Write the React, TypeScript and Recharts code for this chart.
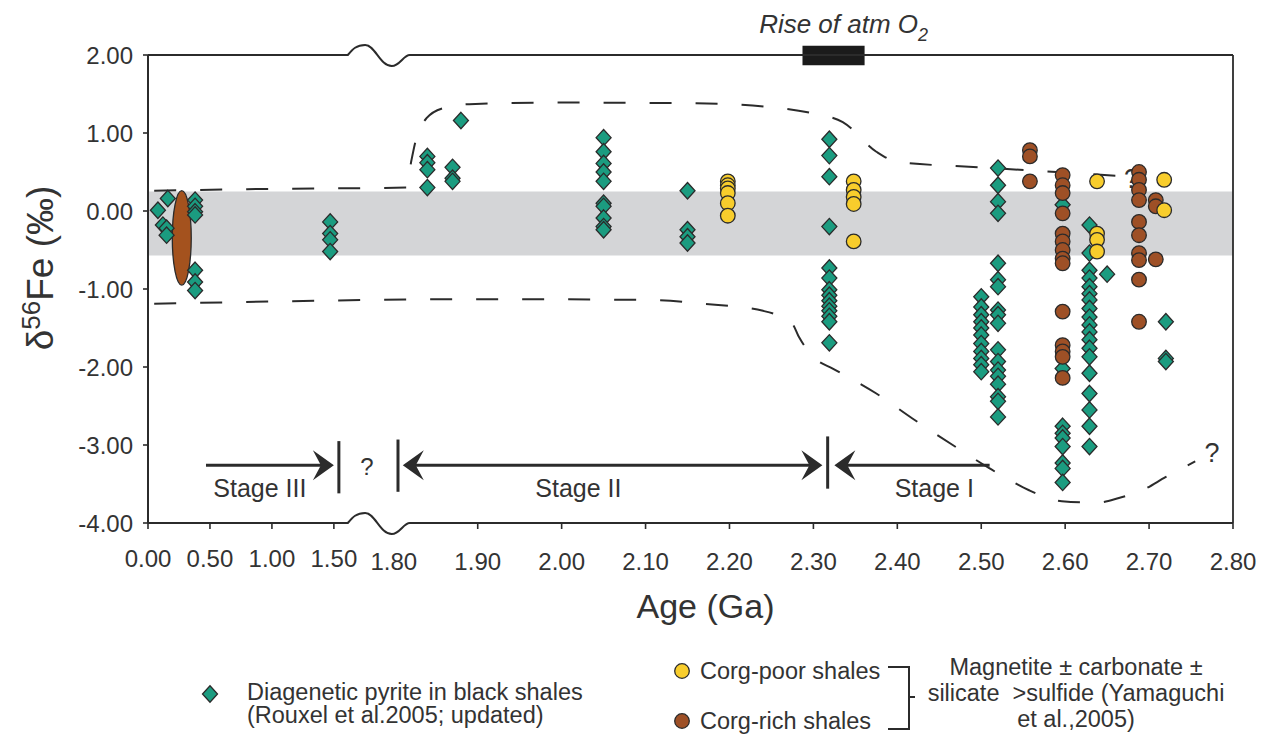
import React from 'react';
import {
  ComposedChart,
  Scatter,
  Line,
  XAxis,
  YAxis,
  ReferenceArea,
  ReferenceLine,
  ReferenceDot,
} from 'recharts';

const FONT = '"Liberation Sans", Arial, Helvetica, sans-serif';
const INK = '#2b2b2b';
const TEXT = '#333';
const TEAL = '#1b9c80';
const YELLOW = '#f8cd2c';
const BROWN = '#9e5026';

// x axis is broken between 1.50 and 1.80 Ga, the 0-1.5 Ga part is squeezed
const LEFT_START = 1.5071; // axis position of 0 Ga
const LEFT_END = 1.7286; // axis position of 1.5 Ga
const ax = (age: number) => {
  if (age <= 1.5) return LEFT_START + (age / 1.5) * (LEFT_END - LEFT_START);
  if (age < 1.8) return LEFT_END + ((age - 1.5) / 0.3) * (1.8 - LEFT_END);
  return age;
};
const WAVE_FROM = 1.7452;
const WAVE_TO = 1.819;

const tickAges = [0, 0.5, 1.0, 1.5, 1.8, 1.9, 2.0, 2.1, 2.2, 2.3, 2.4, 2.5, 2.6, 2.7, 2.8];
const tickLabels = ['0.00', '0.50', '1.00', '1.50', '1.80', '1.90', '2.00', '2.10', '2.20', '2.30', '2.40', '2.50', '2.60', '2.70', '2.80'];
const yTicks = [-4, -3, -2, -1, 0, 1, 2];

// diagenetic pyrite (Rouxel et al. 2005)
const pyriteAges = [0.08, 0.16, 0.12, 0.15, 0.38, 1.47, 1.84, 1.87, 1.88, 2.05, 2.15, 2.319, 2.50, 2.52, 2.597, 2.629, 2.65, 2.72];
const pyriteValues = [
  [0.01],
  [0.16],
  [-0.18],
  [-0.22, -0.31],
  [0.14, 0.06, -0.01, -0.05, -0.76, -0.91, -1.02],
  [-0.14, -0.29, -0.37, -0.52],
  [0.7, 0.62, 0.53, 0.3],
  [0.56, 0.42, 0.38],
  [1.16],
  [0.94, 0.76, 0.61, 0.5, 0.38, 0.1, 0.06, -0.09, -0.2, -0.24],
  [0.26, -0.24, -0.33, -0.41],
  [0.92, 0.71, 0.44, -0.2, -0.73, -0.86, -1.01, -1.08, -1.15, -1.22, -1.28, -1.35, -1.42, -1.69],
  [-1.1, -1.23, -1.33, -1.42, -1.5, -1.59, -1.7, -1.8, -1.89, -1.97, -2.06],
  [0.55, 0.33, 0.12, -0.03, -0.67, -0.88, -0.97, -1.27, -1.33, -1.44, -1.78, -1.93, -2.04, -2.12, -2.22, -2.38, -2.44, -2.64],
  [0.08, -2.02, -2.76, -2.85, -2.91, -3.02, -3.23, -3.3, -3.48],
  [-0.18, -0.54, -0.76, -0.86, -0.97, -1.06, -1.14, -1.25, -1.36, -1.46, -1.55, -1.65, -1.76, -1.87, -2.08, -2.34, -2.55, -2.76, -3.02],
  [-0.81],
  [-1.42, -1.89, -1.93],
];

// Corg-poor shales (Yamaguchi et al. 2005)
const poorAges = [2.198, 2.348, 2.638, 2.718];
const poorValues = [
  [0.38, 0.33, 0.29, 0.23, 0.1, -0.06],
  [0.38, 0.27, 0.18, 0.09, -0.39],
  [0.38, -0.29, -0.37, -0.52],
  [0.4, 0.01],
];

// Corg-rich shales
const richAges = [2.558, 2.597, 2.688, 2.708];
const richValues = [
  [0.78, 0.7, 0.38],
  [0.46, 0.33, 0.23, -0.03, -0.29, -0.39, -0.5, -0.61, -0.67, -1.29, -1.72, -1.8, -1.87, -2.14],
  [0.5, 0.4, 0.27, 0.14, -0.14, -0.31, -0.54, -0.63, -0.88, -1.42],
  [0.14, 0.06, -0.62],
];

// dashed envelope
const upperAges = [0.05, 0.8, 1.5, 1.815, 1.821, 1.826, 1.839, 1.859, 1.89, 2.0, 2.16, 2.26, 2.3, 2.335, 2.375, 2.4, 2.48, 2.56, 2.62, 2.665];
const upperValues = [0.26, 0.28, 0.29, 0.3, 0.65, 0.9, 1.19, 1.32, 1.37, 1.39, 1.38, 1.32, 1.25, 1.14, 0.76, 0.63, 0.57, 0.52, 0.48, 0.45];
const lowerAges = [0.05, 1.0, 1.9, 2.1, 2.17, 2.24, 2.275, 2.283, 2.303, 2.323, 2.375, 2.418, 2.466, 2.51, 2.537, 2.557, 2.596, 2.637, 2.664, 2.692, 2.72, 2.755];
const lowerValues = [-1.19, -1.16, -1.13, -1.14, -1.19, -1.28, -1.45, -1.62, -1.9, -2.02, -2.34, -2.66, -3.0, -3.3, -3.47, -3.58, -3.72, -3.74, -3.68, -3.58, -3.41, -3.21];

// ellipse of the young-age range
const ellipseAges = [0.196, 0.349];
const ellipseRange = [-0.95, 0.26];

const columns = (ages: number[], values: number[][]) =>
  ages.flatMap((a, i) => values[i].map((v) => ({ x: ax(a), y: v })));
const curve = (ages: number[], values: number[]) => ages.map((a, i) => ({ x: ax(a), y: values[i] }));

const pyriteData = columns(pyriteAges, pyriteValues);
const poorData = columns(poorAges, poorValues);
const richData = columns(richAges, richValues);
const upperData = curve(upperAges, upperValues);
const lowerData = curve(lowerAges, lowerValues);

const diamondPath = (cx: number, cy: number, w = 7.5, h = 8.2) =>
  `M${cx},${cy - h}L${cx + w},${cy}L${cx},${cy + h}L${cx - w},${cy}Z`;

const Diamond = (p: any) => (
  <path d={diamondPath(p.cx, p.cy)} fill={TEAL} stroke={INK} strokeWidth={1.3} />
);
const dot = (fill: string) => (p: any) => (
  <circle cx={p.cx} cy={p.cy} r={7.3} fill={fill} stroke={INK} strokeWidth={1.3} />
);

const XTick = (p: any) => {
  const { x, y, payload } = p;
  const i = tickAges.findIndex((a) => Math.abs(ax(a) - payload.value) < 1e-6);
  const age = tickAges[i];
  return (
    <g>
      {age !== 1.8 && <line x1={x} x2={x} y1={y} y2={y + 6} stroke={INK} strokeWidth={1.6} />}
      <text x={x} y={y + (age <= 1.5 ? 44 : 47)} textAnchor="middle" fontSize={24} fill={TEXT}>
        {tickLabels[i]}
      </text>
    </g>
  );
};

// frame line with the axis-break wiggle
const brokenLine = (p: any) => {
  const { x1, x2, y1 } = p;
  const span = (v: number) => x1 + ((v - ax(0)) / (2.8 - ax(0))) * (x2 - x1);
  const a = span(WAVE_FROM);
  const b = span(WAVE_TO);
  const w = b - a;
  const y = y1;
  const d =
    `M${x1},${y}L${a},${y}` +
    `C${a + w * 0.08},${y - 6} ${a + w * 0.14},${y - 10} ${a + w * 0.28},${y - 10}` +
    `C${a + w * 0.44},${y - 10} ${a + w * 0.52},${y + 11} ${a + w * 0.71},${y + 11}` +
    `C${a + w * 0.84},${y + 11} ${a + w * 0.9},${y} ${b},${y}L${x2},${y}`;
  return <path d={d} fill="none" stroke={INK} strokeWidth={2} />;
};

const arrow = (headStart: boolean, headEnd: boolean) => (p: any) => {
  const { x1, x2, y1 } = p;
  const y = y1;
  const head = (tx: number, dir: number) =>
    `M${tx},${y}L${tx - dir * 21},${y - 15}L${tx - dir * 13},${y}L${tx - dir * 21},${y + 15}Z`;
  return (
    <g>
      <line x1={headStart ? x1 + 12 : x1} x2={headEnd ? x2 - 12 : x2} y1={y} y2={y} stroke={INK} strokeWidth={3} />
      {headStart && <path d={head(x1, -1)} fill={INK} />}
      {headEnd && <path d={head(x2, 1)} fill={INK} />}
    </g>
  );
};

const label = (text: React.ReactNode, size = 25, italic = false) => (p: any) => (
  <text x={p.cx} y={p.cy} textAnchor="middle" fontSize={size} fill={TEXT} fontStyle={italic ? 'italic' : 'normal'}>
    {text}
  </text>
);

const ellipse = (p: any) => (
  <ellipse
    cx={p.x + p.width / 2}
    cy={p.y + p.height / 2}
    rx={p.width / 2}
    ry={p.height / 2}
    fill="#a4521e"
    stroke={INK}
    strokeWidth={1.3}
  />
);

const YTitle = (p: any) => {
  const vb = p.viewBox;
  const cx = vb.x - 35;
  const cy = vb.y + vb.height / 2 - 21;
  return (
    <text transform={`rotate(-90 ${cx} ${cy})`} x={cx} y={cy} textAnchor="middle" fontSize={37} fill={TEXT}>
      δ<tspan fontSize={26} dy={-13}>56</tspan>
      <tspan dy={13}>Fe (‰)</tspan>
    </text>
  );
};

const XTitle = (p: any) => {
  const vb = p.viewBox;
  return (
    <text x={vb.x + vb.width / 2 + 15} y={618} textAnchor="middle" fontSize={34} fill={TEXT}>
      Age (Ga)
    </text>
  );
};

const Legend = () => (
  <svg
    width={1263}
    height={736}
    style={{ position: 'absolute', left: 0, top: 0, pointerEvents: 'none' }}
    fontFamily={FONT}
    fontSize={23.5}
    fill={TEXT}
  >
    <path d={diamondPath(210, 694)} fill={TEAL} stroke={INK} strokeWidth={1.3} />
    <text x={247} y={700}>Diagenetic pyrite in black shales</text>
    <text x={247} y={723}>(Rouxel et al.2005; updated)</text>
    <circle cx={682} cy={671} r={7.3} fill={YELLOW} stroke={INK} strokeWidth={1.3} />
    <text x={700} y={679}>Corg-poor shales</text>
    <circle cx={682} cy={721} r={7.3} fill={BROWN} stroke={INK} strokeWidth={1.3} />
    <text x={700} y={729}>Corg-rich shales</text>
    <path d="M888,667H909V729H888M909,697H915" fill="none" stroke={INK} strokeWidth={2} />
    <text x={1076} y={675} textAnchor="middle">Magnetite ± carbonate ±</text>
    <text x={1076} y={701} textAnchor="middle" style={{ whiteSpace: 'pre' }}>silicate  &gt;sulfide (Yamaguchi</text>
    <text x={1076} y={727} textAnchor="middle">et al.,2005)</text>
  </svg>
);

export default function App() {
  return (
    <div style={{ position: 'absolute', left: 0, top: 0, width: 1263, height: 736, background: '#fff', fontFamily: FONT }}>
      <ComposedChart width={1263} height={736} margin={{ top: 55, right: 30, bottom: 183, left: 88 }}>
        <XAxis
          type="number"
          dataKey="x"
          domain={[ax(0), 2.8]}
          ticks={tickAges.map(ax)}
          interval={0}
          allowDataOverflow
          axisLine={false}
          tickLine={false}
          tickSize={0}
          tickMargin={0}
          tick={<XTick />}
          height={30}
          label={{ content: <XTitle /> }}
        />
        <YAxis
          type="number"
          dataKey="y"
          domain={[-4, 2]}
          ticks={yTicks}
          interval={0}
          allowDataOverflow
          width={60}
          tickFormatter={(v: number) => v.toFixed(2)}
          tick={{ fontSize: 24, fill: TEXT }}
          tickSize={5}
          tickMargin={10}
          axisLine={{ stroke: INK, strokeWidth: 2 }}
          tickLine={{ stroke: INK, strokeWidth: 1.6 }}
          label={{ content: <YTitle /> }}
        />

        <ReferenceArea y1={-0.57} y2={0.25} fill="#d4d5d7" fillOpacity={1} stroke="none" />

        <Line data={upperData} dataKey="y" type="monotone" stroke={INK} strokeWidth={2} strokeDasharray="22 24" dot={false} activeDot={false} isAnimationActive={false} />
        <Line data={lowerData} dataKey="y" type="monotone" stroke={INK} strokeWidth={2} strokeDasharray="22 24" dot={false} activeDot={false} isAnimationActive={false} />

        <ReferenceLine segment={[{ x: ax(0), y: 2 }, { x: 2.8, y: 2 }]} ifOverflow="visible" shape={brokenLine} />
        <ReferenceLine segment={[{ x: ax(0), y: -4 }, { x: 2.8, y: -4 }]} ifOverflow="visible" shape={brokenLine} />
        <ReferenceLine x={2.8} stroke={INK} strokeWidth={1.8} ifOverflow="visible" />

        <ReferenceLine segment={[{ x: ax(0.468), y: -3.26 }, { x: ax(1.5), y: -3.26 }]} shape={arrow(false, true)} />
        <ReferenceLine segment={[{ x: 1.8107, y: -3.26 }, { x: 2.3107, y: -3.26 }]} shape={arrow(true, true)} />
        <ReferenceLine segment={[{ x: 2.325, y: -3.26 }, { x: 2.51, y: -3.26 }]} shape={arrow(true, false)} />
        <ReferenceLine segment={[{ x: ax(1.525), y: -2.95 }, { x: ax(1.525), y: -3.62 }]} stroke={INK} strokeWidth={3} />
        <ReferenceLine segment={[{ x: 1.805, y: -2.93 }, { x: 1.805, y: -3.6 }]} stroke={INK} strokeWidth={3} />
        <ReferenceLine segment={[{ x: 2.317, y: -2.89 }, { x: 2.317, y: -3.56 }]} stroke={INK} strokeWidth={3} />

        <ReferenceDot x={ax(0.903)} y={-3.667} ifOverflow="visible" shape={label('Stage III')} />
        <ReferenceDot x={2.02} y={-3.667} ifOverflow="visible" shape={label('Stage II')} />
        <ReferenceDot x={2.444} y={-3.667} ifOverflow="visible" shape={label('Stage I')} />
        <ReferenceDot x={ax(1.666)} y={-3.385} ifOverflow="visible" shape={label('?', 24)} />
        <ReferenceDot x={2.679} y={0.29} ifOverflow="visible" shape={label('?', 27)} />
        <ReferenceDot x={2.775} y={-3.22} ifOverflow="visible" shape={label('?', 27)} />

        <Scatter data={pyriteData} dataKey="y" shape={Diamond} isAnimationActive={false} />
        <ReferenceArea x1={ax(ellipseAges[0])} x2={ax(ellipseAges[1])} y1={ellipseRange[0]} y2={ellipseRange[1]} shape={ellipse} />
        <Scatter data={richData} dataKey="y" shape={dot(BROWN)} isAnimationActive={false} />
        <Scatter data={poorData} dataKey="y" shape={dot(YELLOW)} isAnimationActive={false} />

        <ReferenceArea x1={2.287} x2={2.361} y1={1.87} y2={2.12} ifOverflow="visible" fill="#1b1b1b" fillOpacity={1} stroke="none" />
        <ReferenceDot
          x={2.336}
          y={2.28}
          ifOverflow="visible"
          shape={label(
            <>
              Rise of atm O<tspan fontSize={18} dy={8}>2</tspan>
            </>,
            26,
            true,
          )}
        />
      </ComposedChart>
      <Legend />
    </div>
  );
}
